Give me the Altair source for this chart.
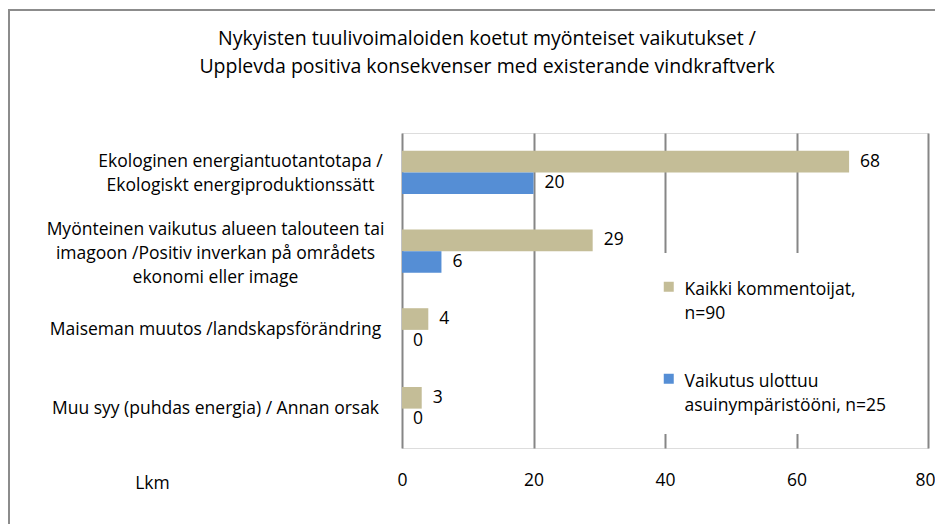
import altair as alt
import pandas as pd

categories = [
    "Ekologinen energiantuotantotapa /\nEkologiskt energiproduktionssätt",
    "Myönteinen vaikutus alueen talouteen tai\nimagoon /Positiv inverkan på områdets\nekonomi eller image",
    "Maiseman muutos /landskapsförändring",
    "Muu syy (puhdas energia) / Annan orsak",
]
series = ["Kaikki kommentoijat,\nn=90", "Vaikutus ulottuu\nasuinympäristööni, n=25"]
values_all = [68, 29, 4, 3]
values_local = [20, 6, 0, 0]
x_ticks = [0, 20, 40, 60, 80]
colors = ["#C4BD97", "#558ED5"]

rows = []
for c, a, b in zip(categories, values_all, values_local):
    rows.append({"cat": c, "series": series[0], "value": a})
    rows.append({"cat": c, "series": series[1], "value": b})
df = pd.DataFrame(rows)

FONT = "Open Sans"
FS = 17.5
GRID = "#868686"

y_enc = alt.Y(
    "cat:N",
    sort=categories,
    scale=alt.Scale(paddingInner=0.45, paddingOuter=0.225),
    axis=alt.Axis(
        title=None,
        domain=False,
        ticks=False,
        grid=False,
        labelAlign="center",
        labelBaseline="middle",
        labelPadding={"condition": {"test": "datum.index < 0.1", "value": 162}, "value": 187},
        labelOffset={
            "condition": [
                {"test": "datum.index < 0.1", "value": -10},
                {"test": "datum.index > 0.2 && datum.index < 0.5", "value": -21},
            ],
            "value": 0,
        },
        labelExpr="split(datum.label, '\\n')",
        labelLineHeight=24,
        labelFontSize=FS,
        labelFont=FONT,
        labelColor="black",
        labelLimit=500,
    ),
)
x_enc = alt.X(
    "value:Q",
    scale=alt.Scale(domain=[0, 80], nice=False),
    axis=alt.Axis(
        values=x_ticks,
        title="Lkm",
        titleX=-250,
        titleY=35,
        titleAlign="center",
        titleBaseline="middle",
        titleFontWeight="normal",
        titleFontSize=FS,
        titleFont=FONT,
        titleColor="black",
        domain=False,
        ticks=False,
        grid=True,
        gridColor=GRID,
        gridWidth=2,
        labelPadding=23,
        labelFlush=False,
        labelAlign={"condition": {"test": "datum.value === 80", "value": "right"}, "value": "center"},
        labelOffset={"condition": {"test": "datum.value === 80", "value": 7}, "value": 0},
        labelFontSize=FS,
        labelFont=FONT,
        labelColor="black",
    ),
)
yoff = alt.YOffset("series:N", sort=series)

bars = alt.Chart(df).mark_bar().encode(
    x=x_enc,
    y=y_enc,
    yOffset=yoff,
    color=alt.Color(
        "series:N",
        sort=series,
        scale=alt.Scale(domain=series, range=colors),
        legend=alt.Legend(
            title=None,
            orient="none",
            legendX=239,
            legendY=120,
            fillColor="white",
            padding=19,
            symbolType="M-1,0.2L1,0.2L1,2.2L-1,2.2Z",
            symbolSize=100,
            symbolStrokeWidth=0,
            labelFont=FONT,
            labelFontSize=FS,
            labelColor="black",
            labelLimit=400,
            labelOffset=7,
            labelBaseline="top",
            labelExpr="split(datum.label, '\\n')",
            rowPadding=41,
        ),
    ),
)

labels = alt.Chart(df).mark_text(
    align="left", baseline="middle", dx=11, fontSize=FS, font=FONT, color="black"
).encode(
    x=alt.X("value:Q"),
    y=alt.Y("cat:N", sort=categories),
    yOffset=yoff,
    text=alt.Text("value:Q"),
)

frame = alt.Chart(alt.Data(values=[{"f": 1}])).mark_rect(
    filled=False, stroke="#8c8c8c", strokeWidth=2
).encode(
    x=alt.value(-393), x2=alt.value(700), y=alt.value(-123), y2=alt.value(600)
)

chart = alt.layer(frame, bars, labels).properties(
    width=526,
    height=315,
    padding={"left": 394, "top": 125, "right": 7, "bottom": 76},
    autosize=alt.AutoSizeParams(type="none"),
    title=alt.TitleParams(
        text=[
            "Nykyisten tuulivoimaloiden koetut  myönteiset vaikutukset /",
            "Upplevda positiva konsekvenser  med existerande vindkraftverk",
        ],
        anchor="middle",
        frame="group",
        dx=-178,
        offset=0,
        dy=68,
        fontSize=19.5,
        font=FONT,
        fontWeight="normal",
        color="black",
        lineHeight=28,
    ),
).configure_view(stroke=GRID, strokeWidth=2).configure(
    background="white", style={"guide-label": {"lineHeight": 24}}
)

chart.save("out.html", embed_options={"renderer": "svg", "actions": False})
